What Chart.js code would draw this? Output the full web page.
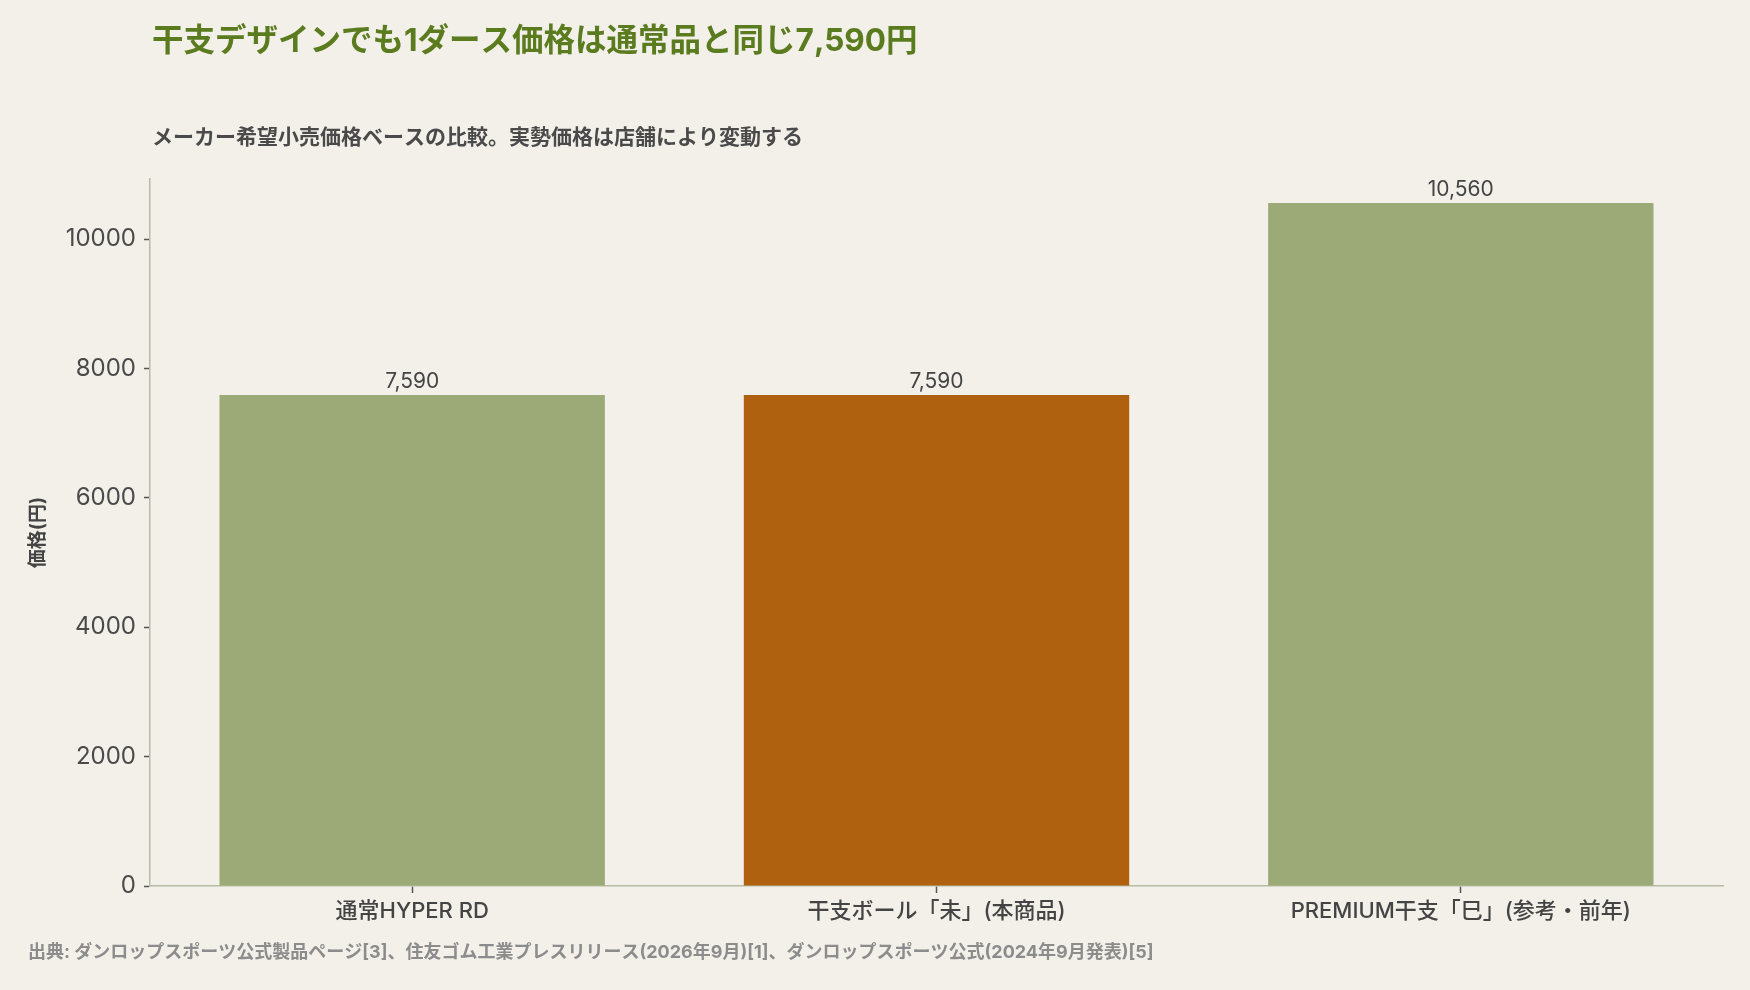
<!doctype html>
<html>
<head>
    <meta charset="UTF-8"/>
    <title>干支ボール価格比較</title>
    <style type="text/css">
        html, body { margin: 0; padding: 0; background: #f2f0e9; }
        .chartBox { width: 1750px; height: 990px; }
    </style>
</head>
<body>
    <div class="chartBox">
        <canvas id="myChart"></canvas>
    </div>

    <script src="https://cdn.jsdelivr.net/npm/chart.js"></script>

    <script>
        const categories = ['通常HYPER RD', '干支ボール「未」(本商品)', 'PREMIUM干支「巳」(参考・前年)'];
        const prices = [7590, 7590, 10560];
        const barColors = ['#9caa77', '#b0610f', '#9caa77'];
        const yTicks = [0, 2000, 4000, 6000, 8000, 10000];

        const titleText = '干支デザインでも1ダース価格は通常品と同じ7,590円';
        const subtitleText = 'メーカー希望小売価格ベースの比較。実勢価格は店舗により変動する';
        const sourceText = '出典: ダンロップスポーツ公式製品ページ[3]、住友ゴム工業プレスリリース(2026年9月)[1]、ダンロップスポーツ公式(2024年9月発表)[5]';

        // latin glyphs from Inter, japanese falls back to Noto CJK
        const FONT = 'Inter, "Noto Sans CJK JP", sans-serif';

        // titles, source line and value labels
        const extras = {
            id: 'extras',
            afterDraw(chart) {
                const ctx = chart.ctx;
                const area = chart.chartArea;
                ctx.save();
                ctx.textAlign = 'left';
                ctx.textBaseline = 'middle';
                ctx.fillStyle = '#5b7b1f';
                ctx.font = 'bold 31.5px ' + FONT;
                ctx.fillText(titleText, area.left + 2, 42);
                ctx.fillStyle = '#4a4a4a';
                ctx.font = 'bold 21px ' + FONT;
                ctx.fillText(subtitleText, area.left + 2, 138);
                ctx.fillStyle = '#8c8c8c';
                ctx.font = 'bold 18px ' + FONT;
                ctx.fillText(sourceText, 28, 953);

                ctx.fillStyle = '#444444';
                ctx.font = '21px ' + FONT;
                ctx.textAlign = 'center';
                ctx.textBaseline = 'bottom';
                chart.getDatasetMeta(0).data.forEach((bar, i) => {
                    ctx.fillText(prices[i].toLocaleString('en-US'), bar.x, bar.y - 3);
                });
                ctx.restore();
            }
        };

        const config = {
            type: 'bar',
            data: {
                labels: categories,
                datasets: [{
                    data: prices,
                    backgroundColor: barColors,
                    borderWidth: 0,
                    barPercentage: 0.735,
                    categoryPercentage: 1
                }]
            },
            options: {
                responsive: false,
                animation: false,
                devicePixelRatio: 1,
                layout: {
                    padding: { top: 179, left: 27, right: 27, bottom: 0 }
                },
                plugins: {
                    legend: { display: false },
                    tooltip: { enabled: false }
                },
                scales: {
                    x: {
                        grid: {
                            offset: false,
                            drawOnChartArea: false,
                            tickLength: 7,
                            tickColor: '#555555',
                            tickWidth: 1.5
                        },
                        border: { color: '#b5bba5', width: 1.5 },
                        ticks: {
                            color: '#444444',
                            font: { family: FONT, size: 22, weight: '500' },
                            padding: 5,
                            maxRotation: 0
                        },
                        afterFit: s => { s.height = 104; }
                    },
                    y: {
                        min: 0,
                        max: 10930,
                        grid: {
                            drawOnChartArea: false,
                            tickLength: 6,
                            tickColor: '#555555',
                            tickWidth: 1.5
                        },
                        border: { color: '#b5bba5', width: 1.5 },
                        ticks: {
                            color: '#4a4a4a',
                            font: { family: FONT, size: 24 },
                            padding: 8,
                            callback: v => String(v)
                        },
                        afterBuildTicks: s => {
                            s.ticks = yTicks.map(v => ({ value: v }));
                        },
                        title: {
                            display: true,
                            text: '価格(円)',
                            color: '#444444',
                            font: { family: FONT, size: 19, weight: 'bold' },
                            padding: 0
                        },
                        afterFit: s => { s.width = 123; }
                    }
                }
            },
            plugins: [extras]
        };

        const canvas = document.getElementById('myChart');
        canvas.width = 1750;
        canvas.height = 990;
        const myChart = new Chart(canvas, config);
    </script>
</body>
</html>
